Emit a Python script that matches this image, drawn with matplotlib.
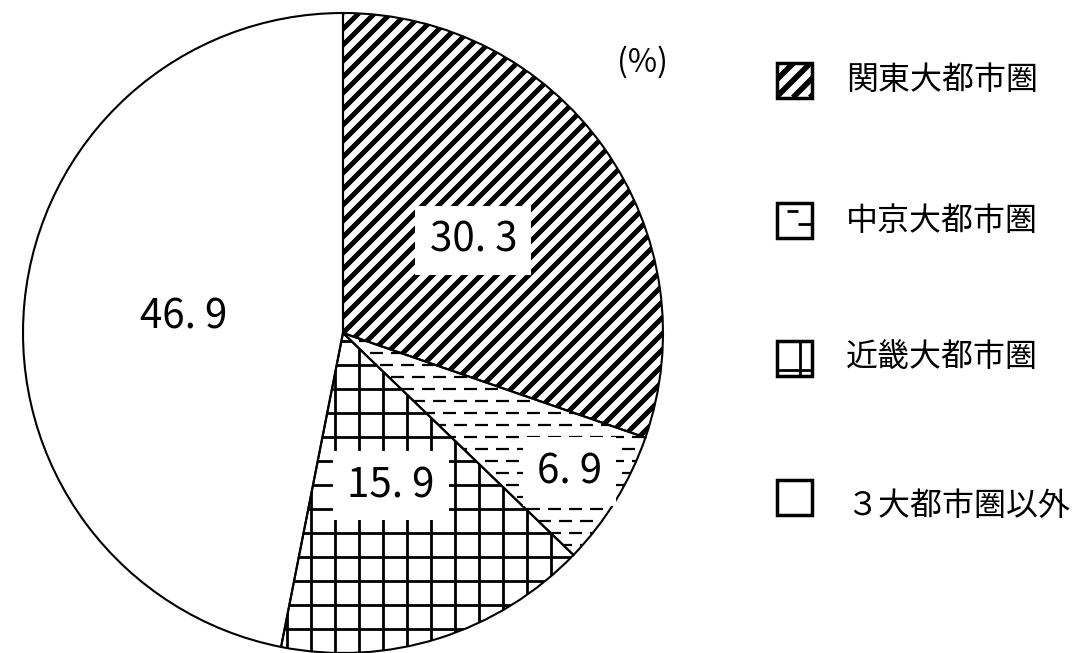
import matplotlib.pyplot as plt
import matplotlib.patches as mpatches
from matplotlib.collections import LineCollection
from matplotlib import font_manager
import numpy as np

plt.rcParams['font.family'] = ['Noto Sans CJK JP', 'DejaVu Sans']

regions = ['関東大都市圏', '中京大都市圏', '近畿大都市圏', '３大都市圏以外']
shares = [30.3, 6.9, 15.9, 46.9]
value_labels = ['30. 3', '6. 9', '15. 9', '46. 9']
unit_label = '(%)'

names = {f.name for f in font_manager.fontManager.ttflist}
num_font = 'Liberation Sans Narrow' if 'Liberation Sans Narrow' in names else 'Noto Sans CJK JP'
print(num_font, sorted(n for n in names if 'Narrow' in n or 'Condensed' in n))

W, H = 1074, 653
fig = plt.figure(figsize=(W / 100, H / 100), dpi=100)
ax = fig.add_axes([0, 0, 1, 1])

cx, cy, r = 343, 320, 320
wedges, _ = ax.pie(shares, center=(cx, cy), radius=r, startangle=90,
                   counterclock=False, colors=['white'] * 4,
                   wedgeprops=dict(edgecolor='none'))
ax.set_xlim(0, W)
ax.set_ylim(0, H)
ax.axis('off')


def add_lines(segs, clip, lw, z=2):
    lc = LineCollection(segs, colors='black', linewidths=lw, zorder=z,
                        capstyle='butt')
    ax.add_collection(lc)
    lc.set_clip_path(clip)


def diag_hatch(clip, box, step, lw, shift=0, z=2):
    x0, y0, x1, y1 = box
    h = y1 - y0
    segs = [[(c, y0), (c + h, y1)] for c in np.arange(x0 - h + shift, x1, step)]
    add_lines(segs, clip, lw, z)


def grid_hatch(clip, box, step, lw):
    x0, y0, x1, y1 = box
    segs = [[(x, y0), (x, y1)] for x in np.arange(x0, x1, step)]
    segs += [[(x0, y), (x1, y)] for y in np.arange(y0, y1, step)]
    add_lines(segs, clip, lw)


def dash_hatch(clip, box, row, dash, gap, lw):
    x0, y0, x1, y1 = box
    segs = []
    for i, y in enumerate(np.arange(y0, y1, row)):
        off = (i % 2) * (dash + gap) / 2
        for x in np.arange(x0 - dash - gap + off, x1, dash + gap):
            segs.append([(x, y), (x + dash, y)])
    add_lines(segs, clip, lw)


pie_box = (cx - r, cy - r, cx + r, cy + r)
diag_hatch(wedges[0], pie_box, 16, 3.6)
dash_hatch(wedges[1], pie_box, 12, 13, 8, 1.6)
grid_hatch(wedges[2], pie_box, 24, 2.0)

# outlines on top of the hatching
for w in wedges:
    ax.add_patch(mpatches.Wedge(w.center, w.r, w.theta1, w.theta2,
                                fill=False, edgecolor='black', lw=1.5, zorder=3))

# value labels
label_frac = [0.5, 0.83, 0.5, 0.5]
for w, txt, f in zip(wedges, value_labels, label_frac):
    mid = np.deg2rad((w.theta1 + w.theta2) / 2)
    ax.text(cx + f * r * np.cos(mid), cy + f * r * np.sin(mid), txt,
            fontsize=29, ha='center', va='center', zorder=4,
            family=[num_font, 'DejaVu Sans'],
            bbox=dict(boxstyle='square,pad=0.35', fc='white', ec='none'))

ax.text(643, H - 62, unit_label, fontsize=23, ha='center', va='center')

# legend
leg_y = [80, 220, 358, 497]
leg_text_y = [80, 221, 358, 506]
sq = 35
for i, (name, yc, ty) in enumerate(zip(regions, leg_y, leg_text_y)):
    x0, y0 = 777, H - yc - sq / 2
    ax.add_patch(mpatches.Rectangle((x0, y0), sq, sq, fc='white', ec='none',
                                    zorder=3))
    clip = mpatches.Rectangle((x0, y0), sq, sq, transform=ax.transData)
    if i == 0:
        diag_hatch(clip, (x0, y0, x0 + sq, y0 + sq), 17, 4.0, shift=-17, z=4)
    elif i == 1:
        add_lines([[(x0 + 0.28 * sq, y0 + 0.75 * sq), (x0 + 0.6 * sq, y0 + 0.75 * sq)],
                   [(x0 + 0.6 * sq, y0 + 0.4 * sq), (x0 + sq, y0 + 0.4 * sq)]],
                  clip, 2.0, z=4)
    elif i == 2:
        add_lines([[(x0 + 0.65 * sq, y0), (x0 + 0.65 * sq, y0 + sq)],
                   [(x0, y0 + 0.15 * sq), (x0 + sq, y0 + 0.15 * sq)]],
                  clip, 2.0, z=4)
    ax.add_patch(mpatches.Rectangle((x0, y0), sq, sq, fill=False, ec='black',
                                    lw=2.5, zorder=5))
    ax.text(846, H - ty, name, fontsize=23, ha='left', va='center')

fig.savefig('out.png', dpi=100)
